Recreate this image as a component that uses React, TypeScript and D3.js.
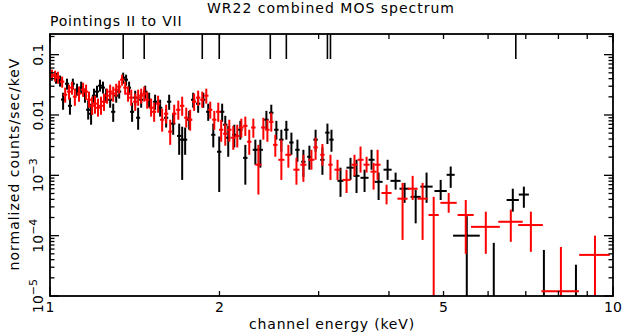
import React from 'react'
import * as d3 from 'd3'

// one row per spectral bin: energy (keV), half width (keV), rate, lower error end, upper error end
type Bin = [number, number, number, number, number]

const blackBins: Bin[] = [
  [1.008, 0.009, 0.045, 0.037, 0.054],
  [1.025, 0.009, 0.0415, 0.033, 0.05],
  [1.042, 0.009, 0.037, 0.0295, 0.045],
  [1.055, 0.009, 0.018, 0.0122, 0.0234],
  [1.072, 0.009, 0.033, 0.0263, 0.04],
  [1.085, 0.009, 0.0142, 0.0101, 0.0194],
  [1.098, 0.009, 0.033, 0.0263, 0.04],
  [1.117, 0.01, 0.0263, 0.0209, 0.033],
  [1.136, 0.01, 0.0284, 0.0226, 0.0357],
  [1.154, 0.01, 0.0209, 0.016, 0.0273],
  [1.169, 0.01, 0.0122, 0.0084, 0.0173],
  [1.183, 0.01, 0.0105, 0.0069, 0.0154],
  [1.197, 0.01, 0.0209, 0.016, 0.0273],
  [1.212, 0.01, 0.0244, 0.0194, 0.0306],
  [1.227, 0.01, 0.0306, 0.0244, 0.0385],
  [1.242, 0.01, 0.0284, 0.0226, 0.0357],
  [1.258, 0.01, 0.0209, 0.016, 0.0273],
  [1.279, 0.011, 0.0179, 0.0132, 0.0234],
  [1.295, 0.011, 0.0113, 0.0077, 0.0154],
  [1.311, 0.011, 0.0209, 0.016, 0.0273],
  [1.327, 0.011, 0.0244, 0.0187, 0.0306],
  [1.349, 0.011, 0.0415, 0.033, 0.0503],
  [1.365, 0.011, 0.0385, 0.0306, 0.0466],
  [1.382, 0.011, 0.0284, 0.0217, 0.0357],
  [1.399, 0.012, 0.0113, 0.0077, 0.016],
  [1.417, 0.012, 0.0194, 0.0142, 0.0253],
  [1.434, 0.012, 0.009, 0.0057, 0.0132],
  [1.452, 0.012, 0.0179, 0.0132, 0.0234],
  [1.476, 0.013, 0.0244, 0.0187, 0.0306],
  [1.5, 0.013, 0.0179, 0.0132, 0.0234],
  [1.537, 0.014, 0.0166, 0.0122, 0.0217],
  [1.569, 0.014, 0.0132, 0.0094, 0.0179],
  [1.608, 0.014, 0.009, 0.0062, 0.0127],
  [1.628, 0.014, 0.0166, 0.0122, 0.0217],
  [1.655, 0.015, 0.0072, 0.0047, 0.0105],
  [1.696, 0.015, 0.0045, 0.00219, 0.0072],
  [1.717, 0.015, 0.0039, 0.00084, 0.0064],
  [1.738, 0.015, 0.0039, 0.00219, 0.0062],
  [1.767, 0.016, 0.00835, 0.0057, 0.0117],
  [1.796, 0.016, 0.0179, 0.0132, 0.0234],
  [1.833, 0.016, 0.0154, 0.0109, 0.0201],
  [1.872, 0.017, 0.0179, 0.0132, 0.0234],
  [1.91, 0.017, 0.0113, 0.008, 0.0154],
  [1.95, 0.017, 0.0047, 0.0029, 0.0072],
  [1.998, 0.018, 0.00246, 0.00053, 0.0044],
  [2.022, 0.018, 0.0113, 0.0077, 0.0154],
  [2.048, 0.018, 0.0069, 0.0047, 0.0097],
  [2.073, 0.019, 0.0042, 0.00203, 0.0066],
  [2.125, 0.019, 0.0047, 0.0029, 0.0069],
  [2.178, 0.02, 0.0057, 0.0039, 0.008],
  [2.223, 0.02, 0.00195, 0.0007, 0.0032],
  [2.316, 0.025, 0.00265, 0.0015, 0.0039],
  [2.364, 0.025, 0.00265, 0.00134, 0.0039],
  [2.423, 0.022, 0.00835, 0.0057, 0.0117],
  [2.472, 0.022, 0.0109, 0.0077, 0.0148],
  [2.524, 0.023, 0.0057, 0.0039, 0.008],
  [2.576, 0.023, 0.0039, 0.00246, 0.0057],
  [2.629, 0.024, 0.0057, 0.0039, 0.008],
  [2.684, 0.024, 0.0035, 0.00219, 0.0051],
  [2.751, 0.025, 0.00265, 0.00168, 0.0039],
  [2.819, 0.025, 0.00168, 0.00094, 0.00265],
  [2.889, 0.026, 0.00203, 0.00124, 0.0031],
  [2.963, 0.027, 0.0039, 0.00246, 0.0057],
  [3.047, 0.027, 0.00181, 0.00102, 0.0029],
  [3.11, 0.028, 0.0051, 0.0033, 0.0072],
  [3.162, 0.028, 0.0039, 0.00246, 0.0057],
  [3.281, 0.04, 0.00081, 0.00044, 0.00134],
  [3.418, 0.056, 0.00134, 0.00084, 0.00195],
  [3.503, 0.043, 0.00098, 0.00051, 0.00181],
  [3.62, 0.06, 0.00091, 0.00053, 0.00124],
  [3.725, 0.046, 0.00181, 0.00124, 0.00265],
  [3.834, 0.063, 0.00078, 0.00039, 0.00111],
  [3.978, 0.066, 0.00124, 0.00084, 0.00181],
  [4.11, 0.085, 0.00081, 0.00058, 0.00111],
  [4.264, 0.088, 0.0006, 0.00035, 0.00075],
  [4.462, 0.092, 0.00044, 0.00016, 0.00058],
  [4.665, 0.117, 0.00065, 0.00035, 0.00111],
  [4.942, 0.124, 0.00055, 0.00039, 0.00084],
  [5.149, 0.085, 0.00102, 0.00062, 0.0014],
  [5.499, 0.3, 0.0001, 0.000001, 0.00021],
  [6.141, 0.25, 0.000003, 0.0000001, 0.000076],
  [6.638, 0.166, 0.00039, 0.00025, 0.0006],
  [6.945, 0.144, 0.00048, 0.00029, 0.00065],
  [7.538, 0.37, 0.000003, 0.0000001, 0.000058],
  [8.594, 0.55, 0.000003, 0.0000001, 0.000033],
]

const redBins: Bin[] = [
  [1.008, 0.009, 0.0466, 0.0385, 0.0564],
  [1.021, 0.009, 0.0449, 0.0357, 0.0543],
  [1.033, 0.009, 0.0415, 0.033, 0.0522],
  [1.051, 0.009, 0.0357, 0.0284, 0.0432],
  [1.064, 0.009, 0.0217, 0.016, 0.0284],
  [1.081, 0.009, 0.0244, 0.0179, 0.0318],
  [1.094, 0.009, 0.0284, 0.0217, 0.0357],
  [1.107, 0.009, 0.0201, 0.0142, 0.0273],
  [1.126, 0.01, 0.0226, 0.0166, 0.0295],
  [1.145, 0.01, 0.0263, 0.0201, 0.0343],
  [1.159, 0.01, 0.0244, 0.0179, 0.0318],
  [1.173, 0.01, 0.0179, 0.0132, 0.0244],
  [1.188, 0.01, 0.0142, 0.0101, 0.0201],
  [1.202, 0.01, 0.0154, 0.0105, 0.0209],
  [1.217, 0.01, 0.0132, 0.0094, 0.0187],
  [1.232, 0.01, 0.0142, 0.0101, 0.0201],
  [1.247, 0.01, 0.0166, 0.0117, 0.0226],
  [1.263, 0.01, 0.0209, 0.0154, 0.0273],
  [1.279, 0.011, 0.0244, 0.0179, 0.0318],
  [1.295, 0.011, 0.0226, 0.0166, 0.0295],
  [1.311, 0.011, 0.0263, 0.0201, 0.033],
  [1.327, 0.011, 0.0295, 0.0226, 0.0371],
  [1.343, 0.011, 0.0385, 0.0306, 0.0466],
  [1.36, 0.011, 0.0284, 0.0217, 0.0357],
  [1.376, 0.011, 0.0226, 0.0166, 0.0295],
  [1.394, 0.012, 0.0194, 0.0142, 0.0263],
  [1.417, 0.012, 0.0166, 0.0117, 0.0226],
  [1.434, 0.012, 0.0194, 0.0142, 0.0263],
  [1.452, 0.012, 0.0209, 0.0154, 0.0273],
  [1.47, 0.012, 0.0226, 0.0166, 0.0295],
  [1.488, 0.013, 0.0179, 0.0127, 0.0244],
  [1.512, 0.013, 0.0132, 0.0094, 0.0187],
  [1.531, 0.013, 0.0113, 0.0077, 0.016],
  [1.556, 0.014, 0.0154, 0.0109, 0.0209],
  [1.582, 0.014, 0.00835, 0.0053, 0.0127],
  [1.608, 0.014, 0.0105, 0.0072, 0.0148],
  [1.635, 0.014, 0.0053, 0.0032, 0.00835],
  [1.662, 0.015, 0.0105, 0.0072, 0.0148],
  [1.69, 0.015, 0.0122, 0.00835, 0.0173],
  [1.717, 0.015, 0.0142, 0.0097, 0.0201],
  [1.746, 0.015, 0.009, 0.0062, 0.0132],
  [1.774, 0.016, 0.00835, 0.0055, 0.0122],
  [1.803, 0.016, 0.0166, 0.0117, 0.0226],
  [1.833, 0.016, 0.0194, 0.0142, 0.0253],
  [1.864, 0.016, 0.0179, 0.0132, 0.0244],
  [1.895, 0.017, 0.0209, 0.0154, 0.0273],
  [1.926, 0.017, 0.0122, 0.0087, 0.0166],
  [1.958, 0.017, 0.00835, 0.0057, 0.0117],
  [1.99, 0.018, 0.0113, 0.0077, 0.016],
  [2.014, 0.018, 0.0057, 0.0036, 0.00835],
  [2.048, 0.018, 0.0049, 0.0031, 0.0072],
  [2.082, 0.019, 0.0057, 0.0036, 0.00835],
  [2.116, 0.019, 0.0042, 0.00265, 0.0066],
  [2.151, 0.019, 0.0045, 0.0029, 0.0069],
  [2.187, 0.02, 0.0062, 0.0042, 0.0087],
  [2.223, 0.02, 0.0066, 0.0045, 0.0094],
  [2.259, 0.02, 0.0036, 0.00219, 0.0057],
  [2.297, 0.021, 0.0062, 0.0042, 0.0087],
  [2.345, 0.03, 0.0015, 0.00048, 0.0032],
  [2.393, 0.022, 0.0062, 0.0039, 0.009],
  [2.433, 0.022, 0.0057, 0.0036, 0.00835],
  [2.472, 0.022, 0.0077, 0.0053, 0.0109],
  [2.513, 0.023, 0.0032, 0.00203, 0.0047],
  [2.576, 0.032, 0.00181, 0.00084, 0.0039],
  [2.651, 0.033, 0.00219, 0.00134, 0.0032],
  [2.74, 0.034, 0.00124, 0.0007, 0.00195],
  [2.819, 0.035, 0.0015, 0.00078, 0.00219],
  [2.913, 0.036, 0.00181, 0.00124, 0.00265],
  [2.963, 0.027, 0.0029, 0.00181, 0.0042],
  [3.047, 0.027, 0.00219, 0.00144, 0.0033],
  [3.149, 0.028, 0.0015, 0.00084, 0.00219],
  [3.241, 0.04, 0.00124, 0.00084, 0.00181],
  [3.363, 0.055, 0.00084, 0.00051, 0.00124],
  [3.474, 0.043, 0.0015, 0.00098, 0.00219],
  [3.561, 0.044, 0.00181, 0.00111, 0.003],
  [3.65, 0.045, 0.0015, 0.00111, 0.00203],
  [3.756, 0.046, 0.00115, 0.00058, 0.00161],
  [3.818, 0.047, 0.0015, 0.00084, 0.00265],
  [3.961, 0.082, 0.00051, 0.00033, 0.0007],
  [4.229, 0.088, 0.00041, 0.000085, 0.00075],
  [4.407, 0.091, 0.0006, 0.00039, 0.00098],
  [4.59, 0.095, 0.00041, 0.000085, 0.00075],
  [4.803, 0.1, 0.00022, 0.000001, 0.00044],
  [5.107, 0.17, 0.00035, 0.00024, 0.00051],
  [5.476, 0.18, 0.00022, 0.00005, 0.00039],
  [5.944, 0.35, 0.00014, 0.00005, 0.00025],
  [6.584, 0.33, 0.00017, 0.000079, 0.00027],
  [7.147, 0.36, 0.00015, 0.000054, 0.00025],
  [8.081, 0.62, 0.000012, 0.0000001, 0.000065],
  [9.289, 0.58, 0.000048, 0.0000001, 0.0001],
]

// emission line markers along the top
const lineEnergies = [1.349, 1.47, 1.864, 1.998, 2.462, 2.629, 3.11, 3.149, 6.72]

const xTickValues = [1, 2, 3, 4, 5, 6, 7, 8, 9, 10]
const xTickLabels = [1, 2, 5, 10]
const yDecades = [1e-5, 1e-4, 1e-3, 0.01, 0.1]
const yLabelText: [string, string][] = [['10', '−5'], ['10', '−4'], ['10', '−3'], ['0.01', ''], ['0.1', '']]

const W = 624
const H = 335
const left = 50
const right = 613
const top = 34
const bottom = 296
const font = 'DejaVu Sans'

const x = d3.scaleLog().domain([1, 10]).range([left, right])
const y = d3.scaleLog().domain([1e-5, 0.22]).range([bottom, top])

const ErrorBars = ({ bins, color }: { bins: Bin[]; color: string }) => (
  <g stroke={color} strokeWidth={2} fill="none">
    {bins.map((b, i) => (
      <g key={i}>
        <line x1={x(b[0] - b[1])} x2={x(b[0] + b[1])} y1={y(b[2])} y2={y(b[2])} />
        <line x1={x(b[0])} x2={x(b[0])} y1={y(b[3])} y2={y(b[4])} />
      </g>
    ))}
  </g>
)

const App = () => {
  // minor ticks on the log y axis
  const yTicks: { v: number; major: boolean }[] = []
  yDecades.forEach((d) => {
    for (let m = 1; m <= 9; m++) {
      if (d * m <= 0.22) yTicks.push({ v: d * m, major: m === 1 })
    }
  })

  return (
    <svg width={W} height={H} style={{ position: 'absolute', left: 0, top: 0, background: '#fff' }}
      fontFamily={font}>
      <defs>
        <clipPath id="plotArea">
          <rect x={left} y={top} width={right - left} height={bottom - top} />
        </clipPath>
      </defs>

      <g clipPath="url(#plotArea)">
        <ErrorBars bins={blackBins} color="#000" />
        <ErrorBars bins={redBins} color="#ff0000" />
      </g>

      {/* line markers */}
      <g stroke="#000" strokeWidth={1.6}>
        {lineEnergies.map((e, i) => (
          <line key={i} x1={x(e)} x2={x(e)} y1={top} y2={top + 25} />
        ))}
      </g>

      {/* frame and ticks */}
      <rect x={left} y={top} width={right - left} height={bottom - top} fill="none" stroke="#000" strokeWidth={1.8} />
      <g stroke="#000" strokeWidth={1.3}>
        {xTickValues.map((v) => {
          const len = v === 1 || v === 10 ? 9 : 5
          return (
            <g key={v}>
              <line x1={x(v)} x2={x(v)} y1={bottom} y2={bottom - len} />
              <line x1={x(v)} x2={x(v)} y1={top} y2={top + len} />
            </g>
          )
        })}
        {yTicks.map((t, i) => {
          const len = t.major ? 9 : 4.5
          return (
            <g key={i}>
              <line x1={left} x2={left + len} y1={y(t.v)} y2={y(t.v)} />
              <line x1={right} x2={right - len} y1={y(t.v)} y2={y(t.v)} />
            </g>
          )
        })}
      </g>

      {/* tick labels */}
      <g fontSize={14} textAnchor="middle" fill="#000">
        {xTickLabels.map((v) => (
          <text key={v} x={x(v)} y={312}>{v}</text>
        ))}
        {yDecades.map((d, i) => (
          <text key={d} transform={`translate(43,${y(d)}) rotate(-90)`}>
            {yLabelText[i][0]}
            {yLabelText[i][1] && (
              <tspan fontSize={11} dy={-6}>{yLabelText[i][1]}</tspan>
            )}
          </text>
        ))}
      </g>

      {/* titles */}
      <text x={331} y={13} fontSize={14} textAnchor="middle" letterSpacing={1}>WR22 combined MOS spectrum</text>
      <text x={50} y={26} fontSize={14} letterSpacing={0.8}>Pointings II to VII</text>
      <text x={332} y={329} fontSize={14} textAnchor="middle" letterSpacing={0.8}>channel energy (keV)</text>
      <text transform="translate(19,164) rotate(-90)" fontSize={14} textAnchor="middle" letterSpacing={1}>
        normalized counts/sec/keV
      </text>
    </svg>
  )
}

export default App
